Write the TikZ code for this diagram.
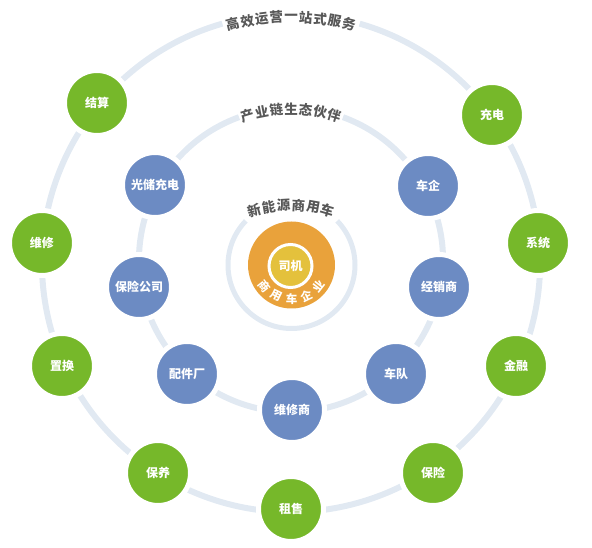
\documentclass[tikz,border=0pt]{standalone}
\usepackage{fontspec}
\setmainfont{Noto Sans CJK SC}
\usetikzlibrary{calc}
\definecolor{ringc}{HTML}{E1E9F2}
\definecolor{ngreen}{HTML}{76B82A}
\definecolor{nblue}{HTML}{6C8BC3}
\definecolor{corange}{HTML}{E9A23B}
\definecolor{cyellow}{HTML}{E4C13C}
\definecolor{tgray}{HTML}{585858}
\begin{document}
\begin{tikzpicture}[x=1pt,y=1pt]
\tikzset{
  ringline/.style={draw=ringc, line width=6pt},
  basenode/.style={circle, minimum size=65pt, inner sep=0pt, draw=white, line width=5pt,
    text=white, font=\bfseries\fontsize{12}{12}\selectfont},
  gnode/.style={basenode, fill=ngreen},
  bnode/.style={basenode, fill=nblue},
  arctext/.style={inner sep=0pt, text=tgray, font=\bfseries\fontsize{13.5}{13.5}\selectfont},
  coretext/.style={inner sep=0pt, text=white, font=\bfseries\fontsize{12}{12}\selectfont},
  coresmall/.style={inner sep=0pt, text=white, font=\bfseries\fontsize{11.5}{11.5}\selectfont}
}
\useasboundingbox (0,0) rectangle (592,547);
% rings
\coordinate (co) at (291,284);
\coordinate (cm) at (291,287);
\coordinate (ci) at (291.5,282);
\draw[ringline] (co) ++(106:249) arc[start angle=106, end angle=434, radius=249];
\draw[ringline] (cm) ++(110:152) arc[start angle=110, end angle=430, radius=152];
\draw[ringline, line width=5pt] (ci) ++(136:63.5) arc[start angle=136, end angle=404, radius=63.5];
% ring titles
\foreach \c [count=\i from 0] in {高,效,运,营,一,站,式,服,务} {
  \pgfmathsetmacro\a{90+(4-\i)*3.4}
  \node[arctext, rotate=\a-90] (to\i) at ($(co)+(\a:246)$) {\c};
}
\foreach \c [count=\i from 0] in {产,业,链,生,态,伙,伴} {
  \pgfmathsetmacro\a{90+(3-\i)*5.6}
  \node[arctext, rotate=\a-90] (tm\i) at ($(cm)+(\a:151)$) {\c};
}
\coordinate (cti) at (291,212);
\foreach \c [count=\i from 0] in {新,能,源,商,用,车} {
  \pgfmathsetmacro\a{90+(2.5-\i)*6.6}
  \node[arctext, rotate=\a-90] (ti\i) at ($(cti)+(\a:130)$) {\c};
}
% core
\node[circle, fill=corange, minimum size=87pt, inner sep=0pt] (core) at (ci) {};
\node[circle, fill=cyellow, draw=white, line width=3pt, minimum size=43pt, inner sep=0pt,
  coretext] (driver) at (290.5,281) {司机};
\foreach \c [count=\i from 0] in {商,用,车,企,业} {
  \pgfmathsetmacro\a{270+(\i-2)*26}
  \node[coresmall, rotate=\a-270] (tc\i) at ($(ci)+(\a:34)$) {\c};
}
% outer nodes
\node[gnode] (jiesuan) at (97,444) {结算};
\node[gnode] (chongdian) at (492,432) {充电};
\node[gnode] (weixiu) at (42,304) {维修};
\node[gnode] (xitong) at (538,304) {系统};
\node[gnode] (zhihuan) at (62,181) {置换};
\node[gnode] (jinrong) at (516,181) {金融};
\node[gnode] (baoyang) at (158,74) {保养};
\node[gnode] (baoxian) at (433,74) {保险};
\node[gnode] (zushou) at (291,38) {租售};
% middle nodes
\node[bnode] (guangchu) at (155,362) {光储充电};
\node[bnode] (cheqi) at (428,361) {车企};
\node[bnode] (baoxiangs) at (139,260) {保险公司};
\node[bnode] (jingxiao) at (439,260) {经销商};
\node[bnode] (peijian) at (187,173) {配件厂};
\node[bnode] (chedui) at (396,173) {车队};
\node[bnode] (weixiushang) at (292,137) {维修商};
\end{tikzpicture}
\end{document}
